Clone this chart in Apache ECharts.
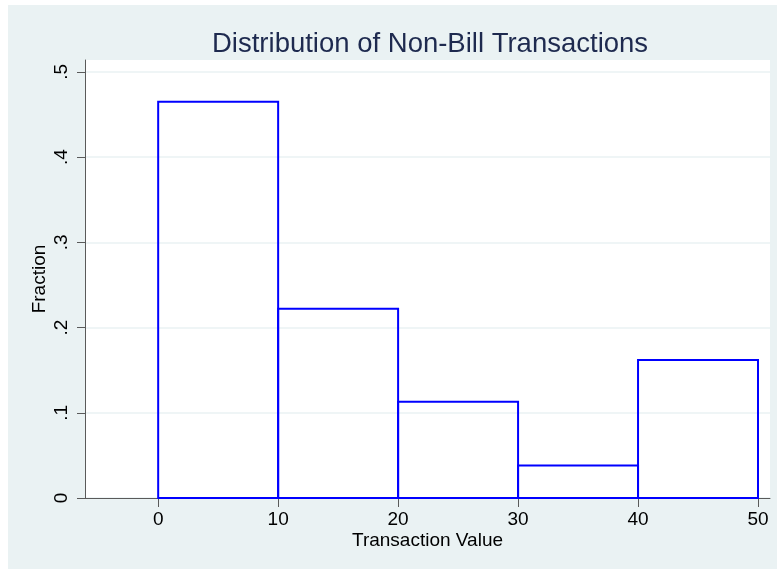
<!DOCTYPE html>
<html>
<head>
<meta charset="utf-8">
<script src="https://cdn.jsdelivr.net/npm/echarts@6/dist/echarts.min.js"></script>
<style>
  html, body { margin: 0; padding: 0; background: #fff; }
  #chart { width: 777px; height: 569px; }
</style>
</head>
<body>
<div id="chart"></div>
<script>
// histogram bins (left edges) and bin width
const binStart = [0, 10, 20, 30, 40];
const binWidth = 10;
// fraction in each bin
const fraction = [0.465, 0.222, 0.113, 0.038, 0.162];
// tick labels
const xTicks = [0, 10, 20, 30, 40, 50];
const yTicks = [0, 0.1, 0.2, 0.3, 0.4, 0.5];

const chart = echarts.init(document.getElementById('chart'));

const font = '"Liberation Sans", Arial, sans-serif';
const axisColor = '#5a5a5a';
const gridColor = '#eaf2f3';

const fmtY = v => {
    if (v === 0) return '0';
    return String(Math.round(v * 10) / 10).replace(/^0/, '');
};

const option = {
    backgroundColor: '#fff',
    textStyle: { fontFamily: font },
    graphic: [{
        type: 'rect',
        z: -10,
        shape: { x: 8, y: 5, width: 769, height: 564 },
        style: { fill: '#eaf2f3' }
    }],
    title: {
        text: 'Distribution of Non-Bill Transactions',
        left: 207,
        top: 25,
        textStyle: {
            fontFamily: font,
            fontSize: 27.5,
            fontWeight: 'normal',
            color: '#1e2a4f'
        }
    },
    grid: {
        left: 85,
        right: 7,
        top: 60,
        bottom: 71,
        show: true,
        backgroundColor: '#fff',
        borderWidth: 0
    },
    xAxis: {
        type: 'value',
        min: -6.1,
        max: 51,
        name: 'Transaction Value',
        nameLocation: 'middle',
        nameGap: 33,
        nameMoveOverlap: false,
        nameTextStyle: { fontSize: 19, color: '#000', fontFamily: font },
        axisLine: { show: true, onZero: false, lineStyle: { color: axisColor, width: 1 } },
        axisTick: { show: true, length: 9, customValues: xTicks, lineStyle: { color: axisColor } },
        axisLabel: { customValues: xTicks, fontSize: 19, color: '#000', margin: 12 },
        splitLine: { show: false }
    },
    yAxis: {
        type: 'value',
        min: 0,
        max: 0.514,
        name: 'Fraction',
        nameLocation: 'middle',
        nameGap: 36,
        nameMoveOverlap: false,
        nameTextStyle: { fontSize: 19, color: '#000', fontFamily: font },
        axisLine: { show: true, onZero: false, lineStyle: { color: axisColor, width: 1 } },
        axisTick: { show: true, length: 8, customValues: yTicks, lineStyle: { color: axisColor } },
        axisLabel: {
            customValues: yTicks,
            fontSize: 19,
            color: '#000',
            rotate: 90,
            margin: 14,
            formatter: fmtY
        },
        splitLine: { show: true, lineStyle: { color: gridColor, width: 1.5 } }
    },
    series: [{
        type: 'custom',
        data: binStart.map((s, i) => [s, s + binWidth, fraction[i]]),
        encode: { x: [0, 1], y: 2 },
        renderItem: function (params, api) {
            const p0 = api.coord([api.value(0), 0]);
            const p1 = api.coord([api.value(1), api.value(2)]);
            return {
                type: 'rect',
                shape: {
                    x: p0[0],
                    y: p1[1],
                    width: p1[0] - p0[0],
                    height: p0[1] - p1[1]
                },
                style: { fill: 'none', stroke: '#0000ff', lineWidth: 2 }
            };
        }
    }]
};

chart.setOption(option);
</script>
</body>
</html>
